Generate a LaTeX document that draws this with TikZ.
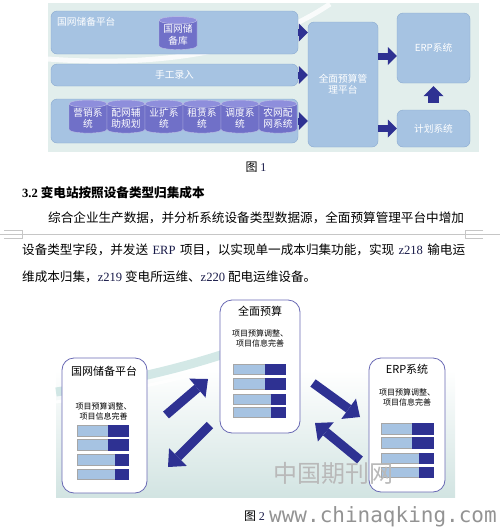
\documentclass[tikz,border=0pt]{standalone}
\usepackage{fontspec}
\setmainfont{Noto Sans CJK SC}
\newfontfamily\tnr{Liberation Serif}
\newfontfamily\webfont{DejaVu Sans Mono}
\usetikzlibrary{shapes.geometric,arrows.meta}

\definecolor{boxfill}{RGB}{166,195,226}
\definecolor{boxline}{RGB}{138,170,208}
\definecolor{cylbody}{RGB}{112,112,200}
\definecolor{cyltop}{RGB}{142,142,220}
\definecolor{arrownavy}{RGB}{46,49,146}
\definecolor{panelbg}{RGB}{226,238,236}
\definecolor{panelbot}{RGB}{210,228,226}
\definecolor{framel}{RGB}{105,105,180}
\definecolor{latinblue}{RGB}{24,26,72}
\definecolor{swooshc}{RGB}{200,226,224}

\tikzset{
  bluebox/.style={draw=boxline, fill=boxfill, rounded corners=6pt, inner sep=0pt},
  whitetext/.style={text=white, font=\fontsize{9.7}{11.5}\selectfont, align=center},
  dbcyl/.style={cylinder, shape border rotate=90, aspect=0.25, draw=white!55!cylbody,
    cylinder uses custom fill, cylinder body fill=cylbody, cylinder end fill=cyltop,
    minimum width=38pt, minimum height=33pt, inner sep=0pt, whitetext},
  flowarrow/.style={draw=arrownavy, line width=7pt, -{Triangle[length=9pt,width=18pt,line width=0pt]}},
  uparrow/.style={draw=arrownavy, line width=11pt, -{Triangle[length=10pt,width=20pt,line width=0pt]}},
  bigarrow/.style={draw=arrownavy, line width=9pt, -{Triangle[length=14pt,width=25pt,line width=0pt]}},
  frame/.style={draw=framel, fill=white, rounded corners=12pt, line width=0.8pt, inner sep=0pt},
  titletext/.style={font=\fontsize{11}{13}\selectfont},
  smalltext/.style={font=\fontsize{8}{9.5}\selectfont, align=center},
  bodytext/.style={font=\fontsize{12.6}{15}\selectfont, inner sep=0pt},
  lightbar/.style={fill=boxfill, draw=gray!70},
  darkbar/.style={fill=arrownavy, draw=arrownavy},
  sepline/.style={draw=gray!45, line width=0.6pt},
}

\begin{document}
\begin{tikzpicture}[x=1pt,y=1pt,yscale=-1]
\useasboundingbox (0,0) rectangle (500,531);

% ----- figure 1 -----
%Shape: Rectangle [background]
\fill[panelbg] (48,3) rectangle (479,152);
\draw[white, line width=5pt, opacity=0.8] (48,59) .. controls (140,66) and (250,58) .. (330,4);

%Shape: Rounded Rect
\node[bluebox, minimum width=247pt, minimum height=43pt] (reserve) at (174.5,32.5) {};
\node[whitetext, anchor=west, inner sep=0pt] (reservelbl) at (57,22) {国网储备平台};
\node[dbcyl] (store) at (178,35) {国网储\\备库};
\node[bluebox, whitetext, minimum width=247pt, minimum height=22pt] (manual) at (174.5,75) {手工录入};
\node[bluebox, minimum width=247pt, minimum height=44pt] (sources) at (174.5,121) {};

%Shape: Can
\node[dbcyl] (src1) at (88,118.5) {营销系\\统};
\node[dbcyl] (src2) at (126,118.5) {配网辅\\助规划};
\node[dbcyl] (src3) at (164,118.5) {业扩系\\统};
\node[dbcyl] (src4) at (202,118.5) {租赁系\\统};
\node[dbcyl] (src5) at (240,118.5) {调度系\\统};
\node[dbcyl] (src6) at (278,118.5) {农网配\\网系统};

\node[bluebox, whitetext, minimum width=70pt, minimum height=125pt] (platform) at (343,84.5) {全面预算管\\理平台};
\node[bluebox, whitetext, minimum width=73pt, minimum height=70pt] (erp) at (433.5,48) {ERP系统};
\node[bluebox, whitetext, minimum width=73pt, minimum height=37pt] (plan) at (433.5,128.5) {计划系统};

%Block Arrows
\draw[flowarrow] (reserve.east) -- (reserve.east -| platform.west);
\draw[flowarrow] (manual.east) -- (manual.east -| platform.west);
\draw[flowarrow] (sources.east) -- (sources.east -| platform.west);
\coordinate (erpin) at ([yshift=8pt]erp.west);
\draw[flowarrow] (platform.east |- erpin) -- (erpin);
\draw[flowarrow] (platform.east |- plan.west) -- (plan.west);
\draw[uparrow, shorten <=7pt, shorten >=3pt] (plan.north) -- (erp.south);

% Text Node
\node[font=\fontsize{12}{14}\selectfont] (cap1) at (256,167) {图 {\tnr\color{latinblue}1}};

% ----- text -----
\node[bodytext, anchor=west, font=\bfseries\fontsize{12.6}{15}\selectfont] (heading) at (22,193) {{\tnr 3.2} 变电站按照设备类型归集成本};
\node[bodytext, anchor=west] (para1) at (48,218) {综合企业生产数据，并分析系统设备类型数据源，全面预算管理平台中增加};
\node[bodytext, anchor=west] (para2) at (22,250) {\makebox[443pt][s]{设备类型字段，并发送 {\tnr\color{latinblue}ERP} 项目，以实现单一成本归集功能，实现 {\tnr\color{latinblue}z218} 输电运}};
\node[bodytext, anchor=west] (para3) at (22,277) {维成本归集，{\tnr\color{latinblue}z219} 变电所运维、{\tnr\color{latinblue}z220} 配电运维设备。};

%Straight Lines [page break]
\draw[sepline] (0,234.3) -- (500,234.3);
\draw[sepline] (4,230.7) -- (22.7,230.7) -- (22.7,238.3) -- (4,238.3);
\draw[sepline] (483,230.7) -- (465,230.7) -- (465,238.3) -- (483,238.3);

% ----- figure 2 -----
\shade[top color=white, bottom color=panelbot] (56,370) rectangle (455,497);
\draw[swooshc, line width=9pt, opacity=0.8] (56,392) .. controls (110,384) and (170,372) .. (230,352);
\draw[white, line width=3pt, opacity=0.9] (56,402) .. controls (120,392) and (180,380) .. (240,362);

\node[frame, minimum width=85pt, minimum height=135pt] (stateplat) at (104.5,425.5) {};
\node[frame, minimum width=80pt, minimum height=133pt] (budget) at (260,366.5) {};
\node[frame, minimum width=76pt, minimum height=134pt] (erpsys) at (407,425) {};

\node[titletext] (stateplattitle) at (104,371) {国网储备平台};
\node[titletext] (budgettitle) at (260,311) {全面预算};
\node[titletext] (erpsystitle) at (407,369) {ERP系统};
\node[smalltext] (statepltxt) at (103.5,411.5) {项目预算调整、\\项目信息完善};
\node[smalltext] (budgettxt) at (260,338.5) {项目预算调整、\\项目信息完善};
\node[smalltext] (erpsystxt) at (407,397.5) {项目预算调整、\\项目信息完善};

%Bars
\foreach \ya/\yb/\s in {425/436/108,439/450/108,454/465/115,469/479/115}{
  \draw[lightbar] (77,\ya) rectangle (\s,\yb);
  \draw[darkbar] (\s,\ya) rectangle (128,\yb);
}
\foreach \ya/\yb/\s in {364/374/265,378/389/265,394/404/271,407/417/271}{
  \draw[lightbar] (233,\ya) rectangle (\s,\yb);
  \draw[darkbar] (\s,\ya) rectangle (285,\yb);
}
\foreach \ya/\yb/\s in {423/434/412,437/448/412,453/463/419,467/477/419}{
  \draw[lightbar] (381,\ya) rectangle (\s,\yb);
  \draw[darkbar] (\s,\ya) rectangle (433,\yb);
}

%Block Arrows
\coordinate (upfrom) at (166,415);
\coordinate (upto) at (208,379);
\coordinate (backfrom) at (210,425);
\coordinate (backto) at (168,467);
\coordinate (erpfrom) at (313,383);
\coordinate (erpto) at (360,417);
\coordinate (retfrom) at (360,460);
\coordinate (retto) at (315,423);
\draw[bigarrow] (upfrom) -- (upto);
\draw[bigarrow] (backfrom) -- (backto);
\draw[bigarrow] (erpfrom) -- (erpto);
\draw[bigarrow] (retfrom) -- (retto);

% Text Node
\node[text=gray!55, font=\fontsize{24}{26}\selectfont] (watermark) at (333,473) {中国期刊网};
\node[anchor=west, inner sep=0pt, font=\fontsize{12}{14}\selectfont] (cap2) at (244,516) {图 {\tnr\color{latinblue}2}};
\node[anchor=west, inner sep=0pt, text=gray!85, font=\webfont\fontsize{21}{23}\selectfont] (website) at (269,517) {www.chinaqking.com};
\end{tikzpicture}
\end{document}
